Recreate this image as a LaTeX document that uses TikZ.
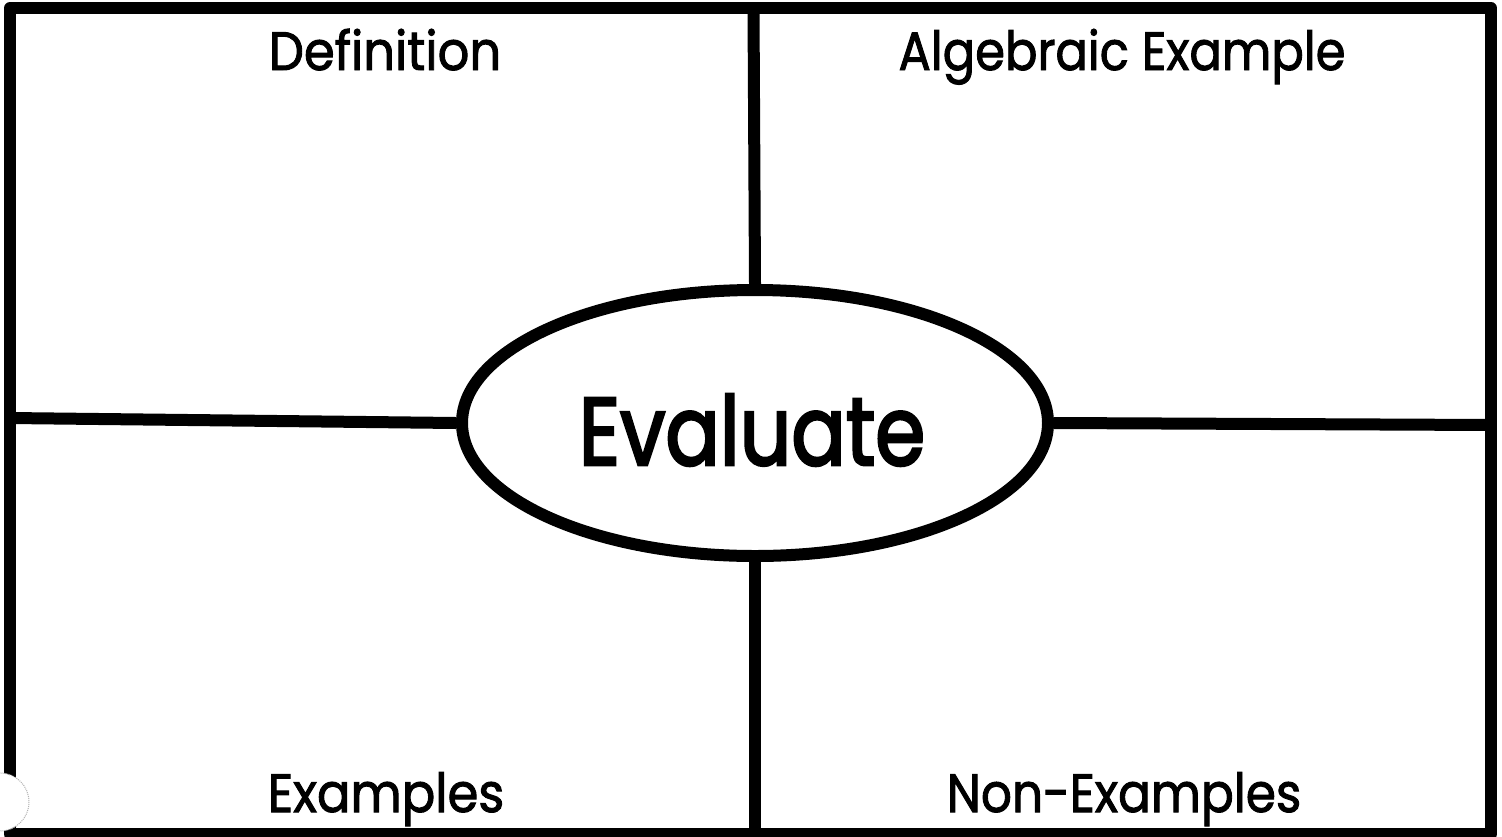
\documentclass[tikz,border=0pt]{standalone}
\usepackage{fontspec}
\setmainfont{Poppins}
\newfontfamily\labfont[FakeBold=1.8]{Poppins}
\newfontfamily\bigfont[FakeBold=3]{Poppins}
\usetikzlibrary{shapes.geometric}
\begin{document}
\begin{tikzpicture}[x=1pt,y=-1pt,
  frame/.style={line width=12pt,black},
  label/.style={font=\labfont\fontsize{54}{60}\selectfont,anchor=base,inner sep=0pt},
  oval/.style={ellipse,draw,line width=12pt,minimum width=586pt,minimum height=266pt,inner sep=0pt,fill=white}]
\useasboundingbox (0,0) rectangle (1502,836);
\fill[white] (0,0) rectangle (1502,836);
% outer frame
\coordinate (tl) at (10,8);
\coordinate (tr) at (1491,8);
\coordinate (br) at (1491,834);
\coordinate (bl) at (10,834);
\draw[frame,line join=round] (tl) -- (tr) -- (br) -- (bl) -- cycle;
% centre oval
\node[oval] (ev) at (755,423) {};
\node[font=\bigfont\fontsize{96}{100}\selectfont,inner sep=0pt,anchor=base] (evt) at (752,465) {\scalebox{0.84}[1]{Evaluate}};
% dividers
\coordinate (lt) at (10,418);
\coordinate (rt) at (1491,425);
\coordinate (tp) at (753.5,8);
\coordinate (bt) at (755,834);
\draw[frame] (lt) -- (ev.west);
\draw[frame] (ev.east) -- (rt);
\draw[frame] (tp) -- (ev.north);
\draw[frame] (ev.south) -- (bt);
% labels
\node[label] (def) at (385,70) {\scalebox{0.92}[1]{Definition}};
\node[label] (alg) at (1122,70) {\scalebox{0.89}[1]{Algebraic Example}};
\node[label] (exa) at (386,812) {\scalebox{0.92}[1]{Examples}};
\node[label] (non) at (1124,812) {\scalebox{0.9}[1]{Non-Examples}};
% hole punch
\fill[white] (0,802) circle (29);
\draw[gray!60,densely dotted,line width=1pt] (0,802) circle (29);
\end{tikzpicture}
\end{document}
